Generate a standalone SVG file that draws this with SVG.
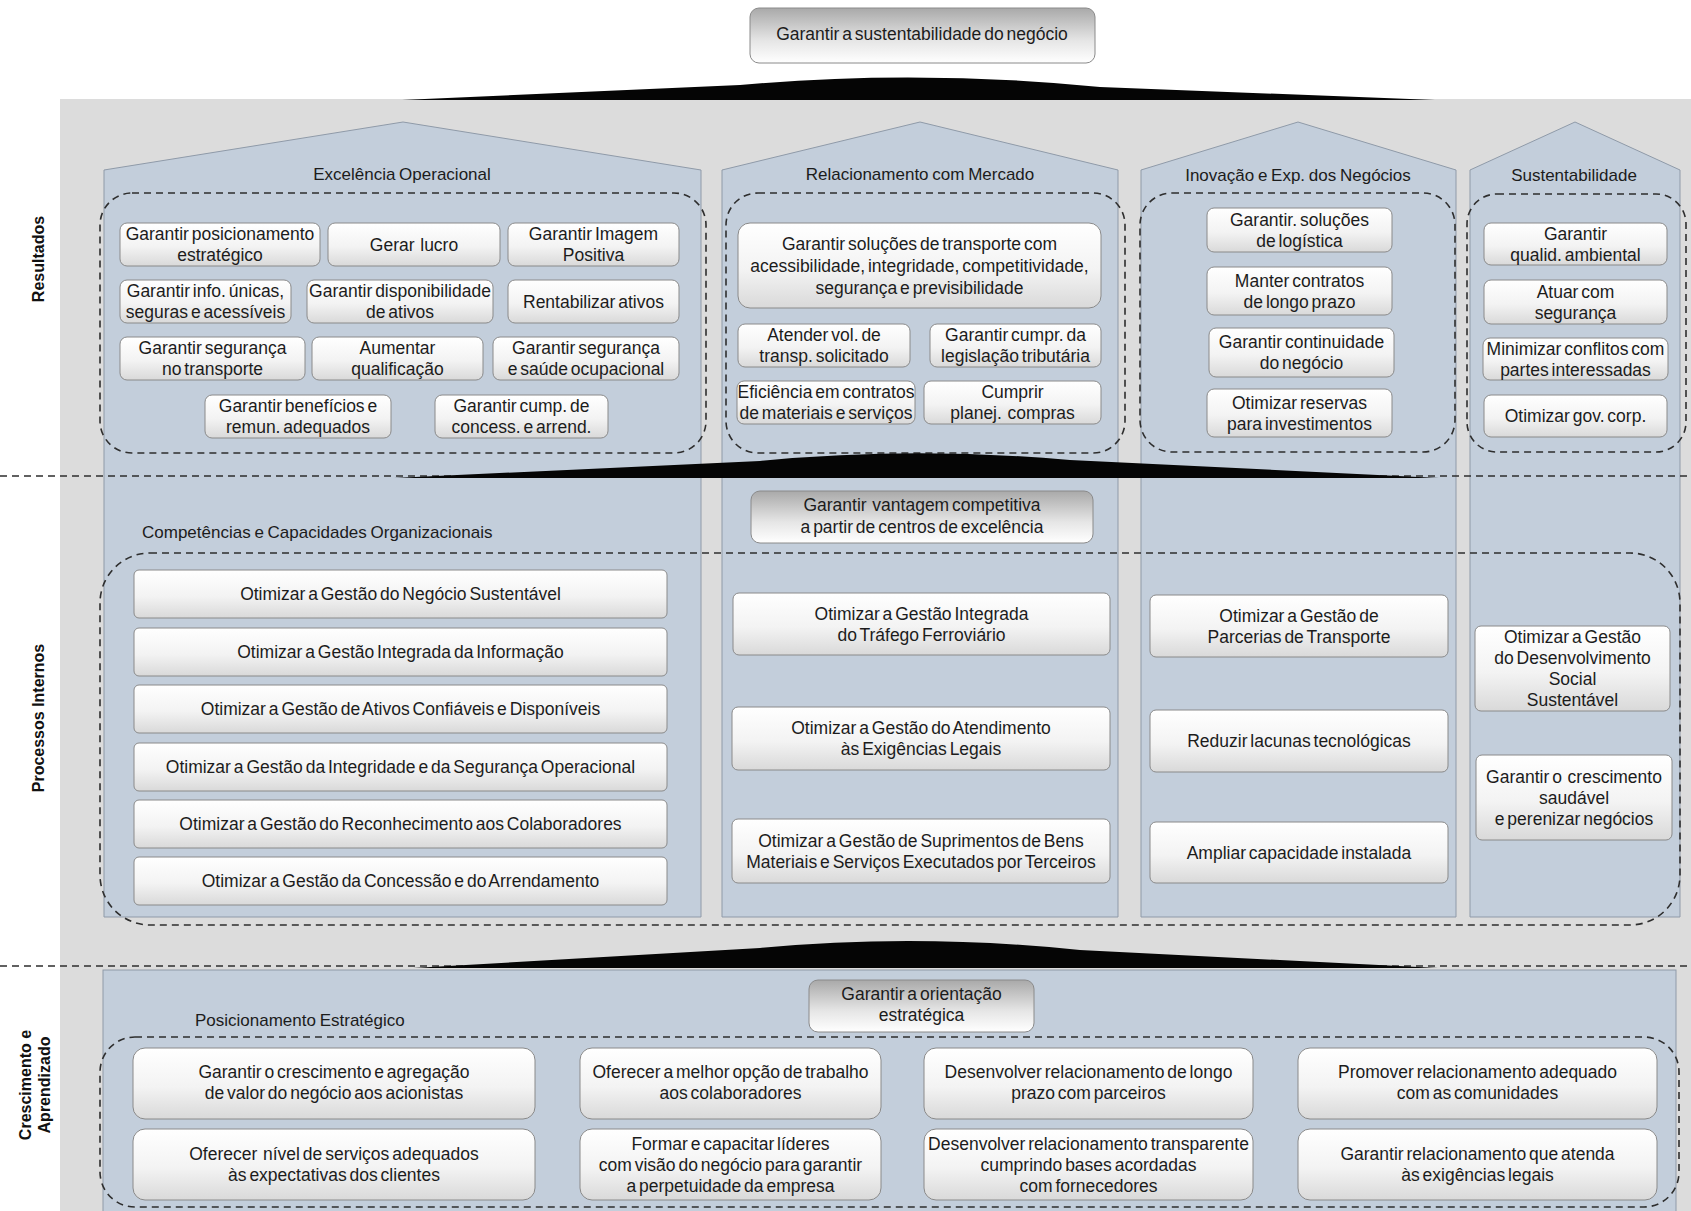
<svg xmlns="http://www.w3.org/2000/svg" width="1691" height="1211" viewBox="0 0 1691 1211">
<defs>
<linearGradient id="gw" x1="0" y1="0" x2="0" y2="1">
<stop offset="0" stop-color="#ffffff"/><stop offset="0.55" stop-color="#f3f3f3"/><stop offset="1" stop-color="#d9d9d9"/>
</linearGradient>
<linearGradient id="gd" x1="0" y1="0" x2="0" y2="1">
<stop offset="0" stop-color="#a9a9a9"/><stop offset="0.6" stop-color="#e6e6e6"/><stop offset="1" stop-color="#ffffff"/>
</linearGradient>
<style>
.bg{fill:#dcdcdc}
.col{fill:#c3cedb;stroke:#8f9aa8;stroke-width:1}
.grp{fill:none;stroke:#2e2e2e;stroke-width:1.6;stroke-dasharray:7 5}
.sep{fill:none;stroke:#2e2e2e;stroke-width:1.6;stroke-dasharray:7 5}
.box{fill:url(#gw);stroke:#8a8a8a;stroke-width:1}
.hbox{fill:url(#gd);stroke:#8a8a8a;stroke-width:1}
.wedge{fill:#050505}
text{font-family:"Liberation Sans",Arial,sans-serif;fill:#1c1c1c}
.t{font-size:17.5px;text-anchor:middle;word-spacing:-2px}
.h{font-size:17px;text-anchor:middle;word-spacing:-1px}
.hl{font-size:17px;text-anchor:start;word-spacing:-1px}
.side{font-size:16px;font-weight:bold;text-anchor:middle;fill:#111}
</style>
</defs>

<rect class="bg" x="60" y="99" width="1631" height="1112"/>

<g id="columns">
<path id="col-excelencia" class="col" d="M104,917 L104,170 L403,122 L701,170 L701,917 Z"/>
<path id="col-relacionamento" class="col" d="M722,917 L722,170 L920,122 L1118,170 L1118,917 Z"/>
<path id="col-inovacao" class="col" d="M1141,917 L1141,170 L1298,122 L1456,170 L1456,917 Z"/>
<path id="col-sustentabilidade" class="col" d="M1470,917 L1470,170 L1575,122 L1680,170 L1680,917 Z"/>
<rect id="row-crescimento" class="col" x="103" y="970" width="1573" height="250"/>
</g>

<g id="separators">
<line class="sep" x1="0" y1="476" x2="1691" y2="476"/>
<line class="sep" x1="0" y1="966" x2="1691" y2="966"/>
</g>

<g id="groups">
<rect class="grp" x="100" y="193" width="606" height="260" rx="32"/>
<rect class="grp" x="726" y="193" width="399" height="260" rx="32"/>
<rect class="grp" x="1140" y="193" width="315" height="259" rx="32"/>
<rect class="grp" x="1467" y="194" width="219" height="258" rx="30"/>
<rect class="grp" x="100" y="553" width="1580" height="372" rx="50"/>
<rect class="grp" x="100" y="1037" width="1579" height="170" rx="35"/>
</g>

<g id="connectors">
<path class="wedge" d="M402,100 L740,85 Q917,69 1100,87 L1435,100 Z"/>
<path class="wedge" d="M394,478 L760,461 Q913,446 1070,460 L1439,478 Z"/>
<path class="wedge" d="M413,968 L760,948 Q916,933 1080,950 L1438,968 Z"/>
</g>

<g id="labels">
<text class="side" transform="translate(44,259) rotate(-90)">Resultados</text>
<text class="side" transform="translate(44,718) rotate(-90)">Processos Internos</text>
<text class="side" transform="translate(31,1085) rotate(-90)">Crescimento e</text>
<text class="side" transform="translate(50,1085) rotate(-90)">Aprendizado</text>
<text class="h" x="402" y="180">Excelência Operacional</text>
<text class="h" x="920" y="180">Relacionamento com Mercado</text>
<text class="h" x="1298" y="181">Inovação e Exp. dos Negócios</text>
<text class="h" x="1574" y="181">Sustentabilidade</text>
<text class="hl" x="142" y="538">Competências e Capacidades Organizacionais</text>
<text class="hl" x="195" y="1026">Posicionamento Estratégico</text>
</g>

<g id="n-top"><rect class="hbox" x="750" y="8" width="345" height="55" rx="9"/><text class="t" x="922" y="40">Garantir a sustentabilidade do negócio</text></g>

<g id="n-e1"><rect class="box" x="120" y="223" width="200" height="43" rx="7"/><text class="t" x="220" y="240">Garantir posicionamento<tspan x="220" dy="21">estratégico</tspan></text></g>
<g id="n-e2"><rect class="box" x="328" y="223" width="172" height="43" rx="7"/><text class="t" x="414" y="250.5" xml:space="preserve">Gerar  lucro</text></g>
<g id="n-e3"><rect class="box" x="508" y="223" width="171" height="43" rx="7"/><text class="t" x="593.5" y="240">Garantir Imagem<tspan x="593.5" dy="21">Positiva</tspan></text></g>
<g id="n-e4"><rect class="box" x="120" y="280" width="171" height="43" rx="7"/><text class="t" x="205.5" y="297">Garantir info. únicas,<tspan x="205.5" dy="21">seguras e acessíveis</tspan></text></g>
<g id="n-e5"><rect class="box" x="307" y="280" width="186" height="43" rx="7"/><text class="t" x="400" y="297">Garantir disponibilidade<tspan x="400" dy="21">de ativos</tspan></text></g>
<g id="n-e6"><rect class="box" x="508" y="280" width="171" height="43" rx="7"/><text class="t" x="593.5" y="307.5">Rentabilizar ativos</text></g>
<g id="n-e7"><rect class="box" x="120" y="337" width="185" height="43" rx="7"/><text class="t" x="212.5" y="354">Garantir segurança<tspan x="212.5" dy="21">no transporte</tspan></text></g>
<g id="n-e8"><rect class="box" x="312" y="337" width="171" height="43" rx="7"/><text class="t" x="397.5" y="354">Aumentar<tspan x="397.5" dy="21">qualificação</tspan></text></g>
<g id="n-e9"><rect class="box" x="493" y="337" width="186" height="43" rx="7"/><text class="t" x="586" y="354">Garantir segurança<tspan x="586" dy="21">e saúde ocupacional</tspan></text></g>
<g id="n-e10"><rect class="box" x="205" y="395" width="186" height="43" rx="7"/><text class="t" x="298" y="412">Garantir benefícios e<tspan x="298" dy="21">remun. adequados</tspan></text></g>
<g id="n-e11"><rect class="box" x="435" y="395" width="173" height="43" rx="7"/><text class="t" x="521.5" y="412">Garantir cump. de<tspan x="521.5" dy="21">concess. e arrend.</tspan></text></g>

<g id="n-r1"><rect class="box" x="738" y="223" width="363" height="85" rx="12"/><text class="t" x="919.5" y="249.5">Garantir soluções de transporte com<tspan x="919.5" dy="22">acessibilidade, integridade, competitividade,</tspan><tspan x="919.5" dy="22">segurança e previsibilidade</tspan></text></g>
<g id="n-r2"><rect class="box" x="738" y="324" width="172" height="43" rx="7"/><text class="t" x="824" y="341">Atender vol. de<tspan x="824" dy="21">transp. solicitado</tspan></text></g>
<g id="n-r3"><rect class="box" x="930" y="324" width="171" height="43" rx="7"/><text class="t" x="1015.5" y="341">Garantir cumpr. da<tspan x="1015.5" dy="21">legislação tributária</tspan></text></g>
<g id="n-r4"><rect class="box" x="737" y="381" width="178" height="43" rx="7"/><text class="t" x="826" y="398">Eficiência em contratos<tspan x="826" dy="21">de materiais e serviços</tspan></text></g>
<g id="n-r5"><rect class="box" x="924" y="381" width="177" height="43" rx="7"/><text class="t" x="1012.5" y="398">Cumprir<tspan x="1012.5" dy="21" xml:space="preserve">planej.  compras</tspan></text></g>

<g id="n-i1"><rect class="box" x="1207" y="208" width="185" height="44" rx="7"/><text class="t" x="1299.5" y="225.5">Garantir. soluções<tspan x="1299.5" dy="21">de logística</tspan></text></g>
<g id="n-i2"><rect class="box" x="1207" y="267" width="185" height="48" rx="7"/><text class="t" x="1299.5" y="286.5">Manter contratos<tspan x="1299.5" dy="21">de longo prazo</tspan></text></g>
<g id="n-i3"><rect class="box" x="1209" y="328" width="185" height="49" rx="7"/><text class="t" x="1301.5" y="348">Garantir continuidade<tspan x="1301.5" dy="21">do negócio</tspan></text></g>
<g id="n-i4"><rect class="box" x="1207" y="389" width="185" height="48" rx="7"/><text class="t" x="1299.5" y="408.5">Otimizar reservas<tspan x="1299.5" dy="21">para investimentos</tspan></text></g>

<g id="n-s1"><rect class="box" x="1484" y="223" width="183" height="42" rx="7"/><text class="t" x="1575.5" y="239.5">Garantir<tspan x="1575.5" dy="21">qualid. ambiental</tspan></text></g>
<g id="n-s2"><rect class="box" x="1484" y="280" width="183" height="44" rx="7"/><text class="t" x="1575.5" y="297.5">Atuar com<tspan x="1575.5" dy="21">segurança</tspan></text></g>
<g id="n-s3"><rect class="box" x="1483" y="338" width="185" height="42" rx="7"/><text class="t" x="1575.5" y="354.5">Minimizar conflitos com<tspan x="1575.5" dy="21">partes interessadas</tspan></text></g>
<g id="n-s4"><rect class="box" x="1484" y="395" width="183" height="42" rx="7"/><text class="t" x="1575.5" y="422">Otimizar gov. corp.</text></g>

<g id="n-vantagem"><rect class="hbox" x="751" y="491" width="342" height="52" rx="9"/><text class="t" x="922" y="511" xml:space="preserve">Garantir  vantagem competitiva<tspan x="922" dy="22">a partir de centros de excelência</tspan></text></g>

<g id="n-p1"><rect class="box" x="134" y="570" width="533" height="48" rx="5"/><text class="t" x="400.5" y="600">Otimizar a Gestão do Negócio Sustentável</text></g>
<g id="n-p2"><rect class="box" x="134" y="628" width="533" height="48" rx="5"/><text class="t" x="400.5" y="658">Otimizar a Gestão Integrada da Informação</text></g>
<g id="n-p3"><rect class="box" x="134" y="685" width="533" height="48" rx="5"/><text class="t" x="400.5" y="715">Otimizar a Gestão de Ativos Confiáveis e Disponíveis</text></g>
<g id="n-p4"><rect class="box" x="134" y="743" width="533" height="48" rx="5"/><text class="t" x="400.5" y="773">Otimizar a Gestão da Integridade e da Segurança Operacional</text></g>
<g id="n-p5"><rect class="box" x="134" y="800" width="533" height="48" rx="5"/><text class="t" x="400.5" y="830">Otimizar a Gestão do Reconhecimento aos Colaboradores</text></g>
<g id="n-p6"><rect class="box" x="134" y="857" width="533" height="48" rx="5"/><text class="t" x="400.5" y="887">Otimizar a Gestão da Concessão e do Arrendamento</text></g>

<g id="n-p7"><rect class="box" x="733" y="593" width="377" height="62" rx="6"/><text class="t" x="921.5" y="619.5">Otimizar a Gestão Integrada<tspan x="921.5" dy="21">do Tráfego Ferroviário</tspan></text></g>
<g id="n-p8"><rect class="box" x="732" y="707" width="378" height="63" rx="6"/><text class="t" x="921" y="734">Otimizar a Gestão do Atendimento<tspan x="921" dy="21">às Exigências Legais</tspan></text></g>
<g id="n-p9"><rect class="box" x="732" y="819" width="378" height="64" rx="6"/><text class="t" x="921" y="846.5">Otimizar a Gestão de Suprimentos de Bens<tspan x="921" dy="21">Materiais e Serviços Executados por Terceiros</tspan></text></g>

<g id="n-p10"><rect class="box" x="1150" y="595" width="298" height="62" rx="6"/><text class="t" x="1299" y="621.5">Otimizar a Gestão de<tspan x="1299" dy="21">Parcerias de Transporte</tspan></text></g>
<g id="n-p11"><rect class="box" x="1150" y="710" width="298" height="62" rx="6"/><text class="t" x="1299" y="747">Reduzir lacunas tecnológicas</text></g>
<g id="n-p12"><rect class="box" x="1150" y="822" width="298" height="61" rx="6"/><text class="t" x="1299" y="858.5">Ampliar capacidade instalada</text></g>

<g id="n-p13"><rect class="box" x="1475" y="626" width="195" height="85" rx="6"/><text class="t" x="1572.5" y="643">Otimizar a Gestão<tspan x="1572.5" dy="21">do Desenvolvimento</tspan><tspan x="1572.5" dy="21">Social</tspan><tspan x="1572.5" dy="21">Sustentável</tspan></text></g>
<g id="n-p14"><rect class="box" x="1476" y="755" width="196" height="85" rx="6"/><text class="t" x="1574" y="782.5" xml:space="preserve">Garantir o  crescimento<tspan x="1574" dy="21">saudável</tspan><tspan x="1574" dy="21">e perenizar negócios</tspan></text></g>

<g id="n-orientacao"><rect class="hbox" x="809" y="980" width="225" height="52" rx="9"/><text class="t" x="921.5" y="1000">Garantir a orientação<tspan x="921.5" dy="21">estratégica</tspan></text></g>

<g id="n-c1"><rect class="box" x="133" y="1048" width="402" height="71" rx="12"/><text class="t" x="334" y="1078">Garantir o crescimento e agregação<tspan x="334" dy="21">de valor do negócio aos acionistas</tspan></text></g>
<g id="n-c2"><rect class="box" x="133" y="1129" width="402" height="71" rx="12"/><text class="t" x="334" y="1160" xml:space="preserve">Oferecer  nível de serviços adequados<tspan x="334" dy="21">às expectativas dos clientes</tspan></text></g>
<g id="n-c3"><rect class="box" x="580" y="1048" width="301" height="71" rx="12"/><text class="t" x="730.5" y="1078">Oferecer a melhor opção de trabalho<tspan x="730.5" dy="21">aos colaboradores</tspan></text></g>
<g id="n-c4"><rect class="box" x="580" y="1129" width="301" height="71" rx="12"/><text class="t" x="730.5" y="1149.5">Formar e capacitar líderes<tspan x="730.5" dy="21">com visão do negócio para garantir</tspan><tspan x="730.5" dy="21">a perpetuidade da empresa</tspan></text></g>
<g id="n-c5"><rect class="box" x="924" y="1048" width="329" height="71" rx="12"/><text class="t" x="1088.5" y="1078">Desenvolver relacionamento de longo<tspan x="1088.5" dy="21">prazo com parceiros</tspan></text></g>
<g id="n-c6"><rect class="box" x="924" y="1129" width="329" height="71" rx="12"/><text class="t" x="1088.5" y="1149.5">Desenvolver relacionamento transparente<tspan x="1088.5" dy="21">cumprindo bases acordadas</tspan><tspan x="1088.5" dy="21">com fornecedores</tspan></text></g>
<g id="n-c7"><rect class="box" x="1298" y="1048" width="359" height="71" rx="12"/><text class="t" x="1477.5" y="1078">Promover relacionamento adequado<tspan x="1477.5" dy="21">com as comunidades</tspan></text></g>
<g id="n-c8"><rect class="box" x="1298" y="1129" width="359" height="71" rx="12"/><text class="t" x="1477.5" y="1160">Garantir relacionamento que atenda<tspan x="1477.5" dy="21">às exigências legais</tspan></text></g>
</svg>
